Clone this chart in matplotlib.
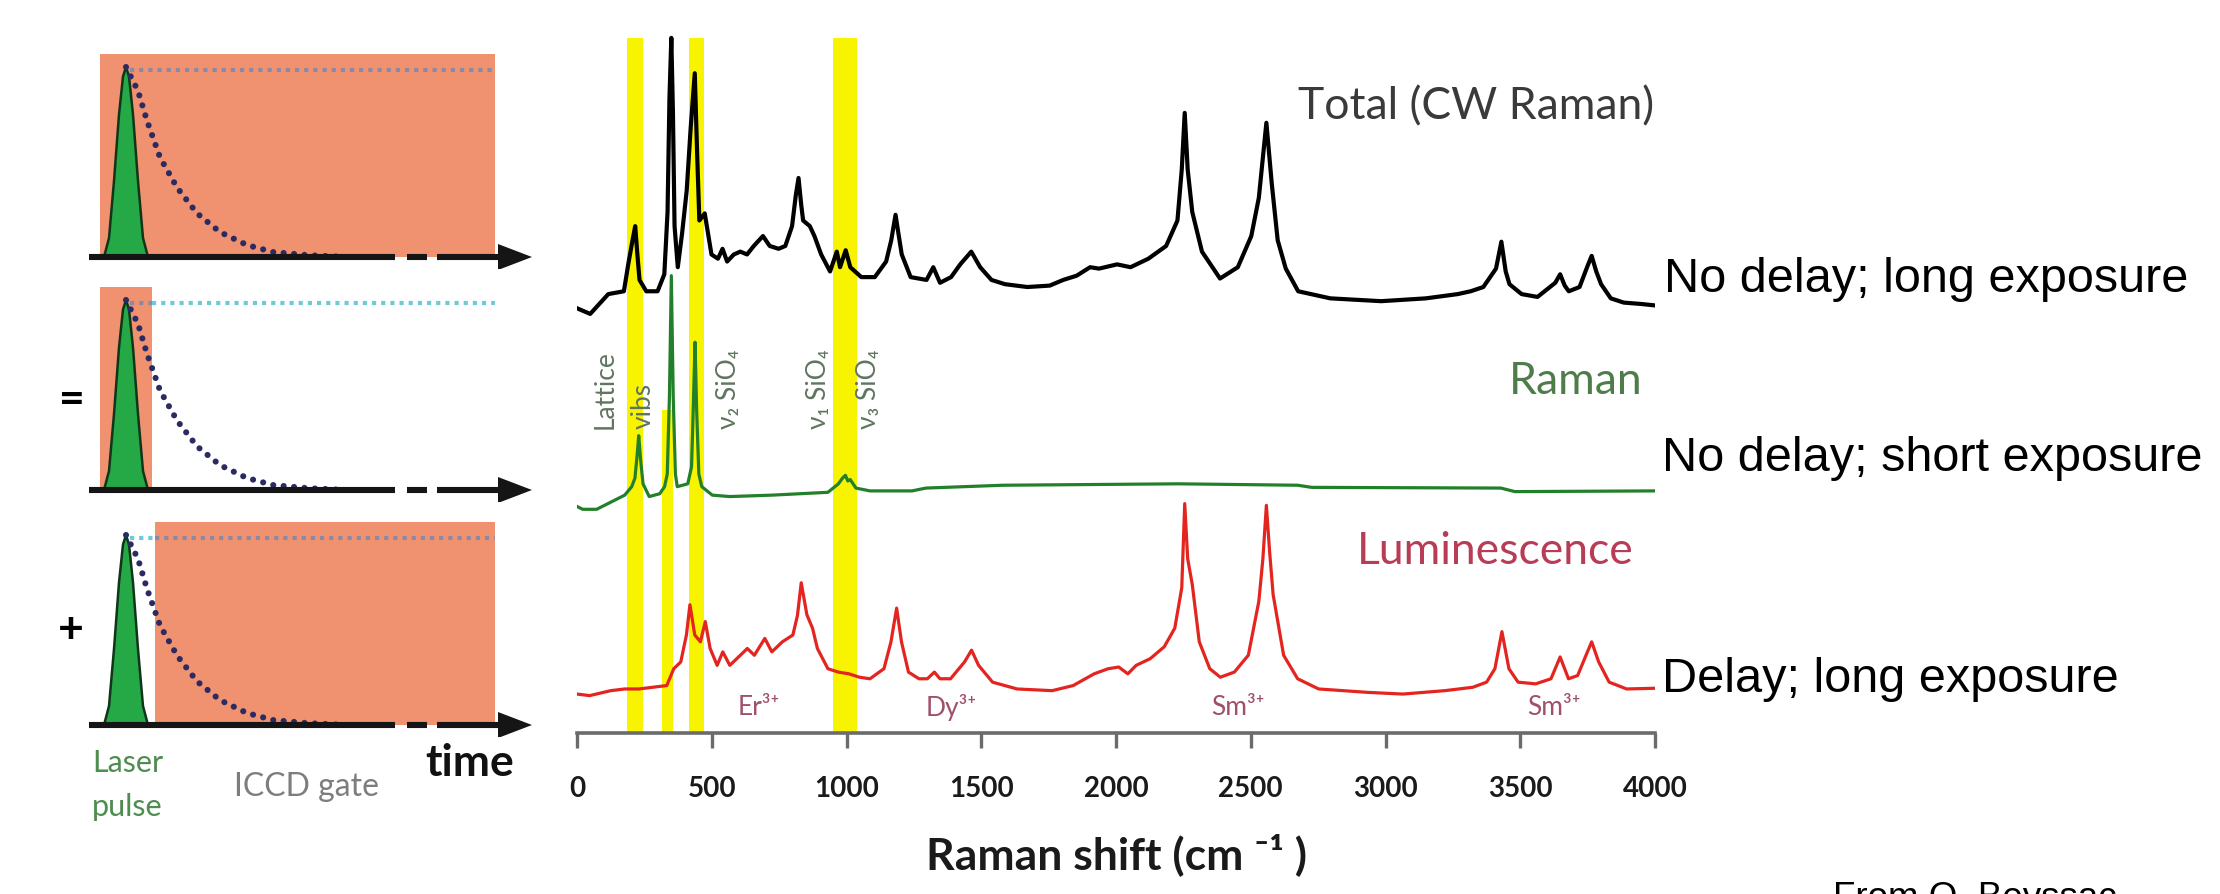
import matplotlib
matplotlib.use('Agg')
import matplotlib.pyplot as plt

W, H = 2220, 894
LAT = ['Lato', 'Noto Sans', 'DejaVu Sans']
ARIAL = ['Liberation Sans', 'DejaVu Sans']

# --- spectra (Raman shift in cm-1, intensity in arbitrary units) ---
total_shift = [0, 49, 116, 174, 191, 206, 216, 224, 232, 257, 299, 324, 336, 343, 350, 356, 362, 374,
               390, 407, 422, 437, 446, 454, 474, 499, 523, 540, 557, 582, 606, 631, 656, 690, 715,
               748, 773, 798, 812, 822, 832, 839, 864, 881, 906, 939, 964, 976, 997, 1014, 1055, 1105,
               1147, 1166, 1182, 1195, 1205, 1238, 1297, 1322, 1347, 1388, 1422, 1463, 1496, 1538,
               1588, 1671, 1754, 1804, 1854, 1904, 1937, 2004, 2054, 2120, 2186, 2228, 2244, 2255,
               2266, 2283, 2319, 2386, 2452, 2502, 2530, 2558, 2578, 2600, 2630, 2676, 2795, 2984,
               3150, 3268, 3316, 3363, 3410, 3430, 3446, 3460, 3505, 3564, 3630, 3648, 3665, 3680,
               3720, 3750, 3765, 3782, 3800, 3836, 3884, 3950, 4000]
total_int = [12, 8, 22, 24, 44, 60, 70, 50, 32, 24, 24, 36, 80, 160, 203, 150, 70, 41,
             65, 95, 140, 178, 120, 74, 79, 50, 47, 54, 45, 50, 52, 50, 56, 63, 56,
             54, 56, 70, 92, 104, 85, 74, 70, 63, 50, 38, 52, 41, 53, 41, 34, 34,
             45, 60, 78, 62, 50, 34, 32, 41, 30, 34, 43, 52, 41, 32,
             29, 27, 28, 32, 35, 41, 40, 43, 41, 47, 56, 74, 110, 150,
             110, 80, 52, 33, 41, 63, 90, 143, 100, 60, 40, 24, 19, 17,
             19, 22, 24, 27, 40, 59, 38, 29, 22, 20, 30, 36, 28, 24,
             27, 42, 49, 38, 29, 19, 16, 15, 14]

raman_shift = [0, 21, 73, 125, 177, 203, 215, 223, 229, 236, 245, 268, 307, 325, 335, 343, 350, 357,
               365, 372, 411, 425, 432, 438, 444, 452, 463, 502, 567, 723, 931, 970, 985, 996, 1005,
               1014, 1035, 1087, 1243, 1295, 1581, 2231, 2674, 2726, 3428, 3480, 4000]
raman_int = [2, 0, 0, 5, 10, 16, 22, 38, 52, 35, 18, 9, 11, 16, 25, 80, 165, 80,
             25, 16, 18, 30, 75, 118, 70, 25, 16, 10, 9, 10, 12, 18, 22, 24, 20,
             21, 15, 13, 13, 15, 17, 18, 17, 15.5, 15, 12.5, 13]

lum_shift = [0, 47, 125, 177, 229, 281, 333, 359, 385, 406, 419, 437, 458, 476, 494, 520, 541, 567,
             606, 632, 658, 697, 723, 762, 801, 818, 832, 853, 874, 892, 931, 970, 1009, 1048, 1087,
             1139, 1165, 1186, 1204, 1230, 1269, 1300, 1326, 1347, 1386, 1438, 1464, 1490, 1542,
             1633, 1763, 1841, 1919, 1971, 2010, 2044, 2075, 2127, 2179, 2218, 2244, 2255, 2266,
             2283, 2309, 2348, 2387, 2439, 2491, 2530, 2545, 2558, 2570, 2583, 2622, 2674, 2752,
             2934, 3064, 3220, 3324, 3375, 3406, 3432, 3458, 3492, 3557, 3614, 3648, 3679, 3713,
             3744, 3765, 3791, 3830, 3895, 4000]
lum_int = [4.5, 3.4, 6.9, 8.1, 8.1, 9.3, 10.5, 22.4, 27.2, 46.2, 67.6, 46.2, 41.4, 55.7, 36.7, 24.8, 34.3, 24.8,
           31.9, 36.7, 31.9, 43.8, 34.3, 41.4, 46.2, 60, 83.1, 60.5, 51, 36.7, 22.4, 20, 18.8, 16.4, 15.3,
           22.4, 41.4, 65.2, 41.4, 20, 15.3, 15.3, 20, 15.3, 15.3, 27.2, 35.5, 24.8, 12.9,
           8.1, 6.9, 10.5, 18.8, 22.4, 23.6, 18.8, 24.8, 29.5, 37.9, 51, 79.5, 139, 100,
           81.9, 41.4, 22.4, 16.4, 20, 31.9, 70, 100, 137.8, 105, 74.8, 31.9, 15.3, 8.1,
           5.7, 4.5, 6.9, 9.3, 12.9, 22.4, 48.6, 22.4, 12.9, 11.7, 15.3, 30.7, 15.3, 17.6,
           31.9, 41.4, 27.2, 12.9, 8.1, 8.6]

band_lo = [185, 315, 415, 950]
band_hi = [245, 355, 472, 1040]
band_top = [491, 228, 491, 491]

mode_labels = ['Lattice', 'vibs', 'ν₂ SiO₄', 'ν₁ SiO₄', 'ν₃ SiO₄']
mode_pos = [104, 247, 562, 896, 1080]
ion_labels = ['Er³⁺', 'Dy³⁺', 'Sm³⁺', 'Sm³⁺']
ion_pos = [674, 1389, 2452, 3626]
xticks = [0, 500, 1000, 1500, 2000, 2500, 3000, 3500, 4000]

# --- timing schematics (time in arbitrary units, 0 = laser pulse) ---
pulse_t = [-22, -17, -12, -7, -3, 0, 3, 7, 12, 17, 22]
pulse_level = [0, 0.1, 0.4, 0.75, 0.95, 1.0, 0.95, 0.75, 0.4, 0.1, 0]
decay_t = [0, 12, 21, 34, 51, 71, 94, 121, 147, 181, 220]
decay_level = [1.0, 0.874, 0.717, 0.524, 0.366, 0.23, 0.131, 0.063, 0.026, 0.01, 0]
gate_start = [-26, -26, 29]
gate_end = [369, 26, 369]
panel_base = [257, 490, 725]
gate_level = 1.068


def box(x0, y0, x1, y1):
    return [x0 / W, 1 - y1 / H, (x1 - x0) / W, (y1 - y0) / H]


fig = plt.figure(figsize=(W / 100, H / 100), dpi=100)
fig.patch.set_facecolor('white')

# spectra
S = 1.4158  # pixels per intensity unit
ax = fig.add_axes(box(577, 0, 1655, 733))
ax.set_xlim(0, 4000)
ax.set_ylim(0, 733 / S)
for lo, hi, top in zip(band_lo, band_hi, band_top):
    ax.fill_between([lo, hi], 0, top, color='#f8f400', lw=0, zorder=1)

ax.plot(total_shift, [v + 288 for v in total_int], color='black', lw=3.0, zorder=4,
        solid_joinstyle='round')
ax.plot(raman_shift, [v + 158 for v in raman_int], color='#23802a', lw=2.3, zorder=3,
        solid_joinstyle='round')
ax.plot(lum_shift, [v + 23 for v in lum_int], color='#e3241f', lw=2.3, zorder=3,
        solid_joinstyle='round')

for lab, xp in zip(mode_labels, mode_pos):
    ax.text(xp, 215, lab, rotation=90, ha='center', va='bottom', fontsize=19,
            color='#5f7560', family=LAT, zorder=5)
for lab, xp in zip(ion_labels, ion_pos):
    ax.text(xp, 18, lab, ha='center', va='center', fontsize=19, color='#a0506a',
            family=LAT, zorder=5)

ax.text(2675, 442, 'Total (CW Raman)', ha='left', va='center', fontsize=32,
        color='#3a3a3a', family=LAT)
ax.text(3952, 248, 'Raman', ha='right', va='center', fontsize=32, color='#4f7d4a', family=LAT)
ax.text(3922, 128, 'Luminescence', ha='right', va='center', fontsize=32, color='#b83c55',
        family=LAT)

for side in ['top', 'right', 'left']:
    ax.spines[side].set_visible(False)
ax.spines['bottom'].set_color('#6b6b6b')
ax.spines['bottom'].set_linewidth(2.6)
ax.set_yticks([])
ax.set_xticks(xticks)
ax.set_xticklabels([str(t) for t in xticks])
ax.tick_params(axis='x', direction='out', length=10.8, width=2.4, color='#6b6b6b', pad=20)
for t in ax.get_xticklabels():
    t.set_family(LAT)
    t.set_fontweight('bold')
    t.set_fontsize(20)
    t.set_color('#1a1a1a')
ax.set_xlabel('Raman shift (cm ⁻¹ )', family=LAT, fontweight='bold', fontsize=32,
              color='#1a1a1a', va='center')
ax.xaxis.set_label_coords(0.5, -122 / 733)
ax.patch.set_alpha(0)

# timing panels
U = 190.0  # pixels per unit level
for base, gs, ge in zip(panel_base, gate_start, gate_end):
    pa = fig.add_axes(box(86, base - 215, 545, base + 12))
    pa.set_xlim(-40, 419)
    pa.set_ylim(-12 / U, 215 / U)
    pa.axis('off')
    pa.fill_between([gs, ge], 0, gate_level, color='#f0916f', lw=0, zorder=1)

    # probe level: grey inside the gate, cyan outside
    p0, p1 = 4, 369
    segs = []
    if gs > p0:
        segs.append((p0, min(gs, p1), '#6ccbd9'))
    segs.append((max(p0, gs), min(p1, ge), '#8d88a3'))
    if ge < p1:
        segs.append((ge, p1, '#6ccbd9'))
    for a, b, c in segs:
        pa.plot([a, b], [0.985, 0.985], color=c, lw=3.0, ls=(0, (1.0, 1.2)), zorder=3)

    pa.fill(pulse_t, pulse_level, facecolor='#25a846', edgecolor='#10361a', lw=1.8, zorder=4)
    pa.plot(decay_t, decay_level, color='#2b2b63', lw=4.4, ls=(0, (0.01, 1.7)),
            dash_capstyle='round', zorder=5)

    # time axis with a break and an arrow head
    for a, b in [(-37, 269), (281, 301), (311, 378)]:
        pa.plot([a, b], [0, 0], color='#151515', lw=4.4, solid_capstyle='butt', zorder=6)
    pa.fill([372, 406, 372], [-13 / U, 0, 13 / U], color='#151515', lw=0, zorder=6)

fig.text(72 / W, 1 - 400 / H, '=', ha='center', va='center', fontsize=32,
         fontweight='bold', family=LAT)
fig.text(71 / W, 1 - 630 / H, '+', ha='center', va='center', fontsize=32,
         fontweight='bold', family=LAT)
fig.text(92 / W, 1 - 763 / H, 'Laser', ha='left', va='center', fontsize=22,
         color='#4e8c50', family=LAT)
fig.text(92 / W, 1 - 807 / H, 'pulse', ha='left', va='center', fontsize=22,
         color='#4e8c50', family=LAT)
fig.text(234 / W, 1 - 787 / H, 'ICCD gate', ha='left', va='center', fontsize=23,
         color='#7d7d7d', family=LAT)
fig.text(425 / W, 1 - 763 / H, 'time', ha='left', va='center', fontsize=32,
         fontweight='bold', color='#111111', family=LAT)

# acquisition settings
fig.text(1664 / W, 1 - 292 / H, 'No delay; long exposure', ha='left', va='baseline',
         fontsize=35, family=ARIAL)
fig.text(1662 / W, 1 - 471 / H, 'No delay; short exposure', ha='left', va='baseline',
         fontsize=35, family=ARIAL)
fig.text(1662 / W, 1 - 692 / H, 'Delay; long exposure', ha='left', va='baseline',
         fontsize=35, family=ARIAL)
fig.text(1833 / W, 1 - 908 / H, 'From O. Beyssac', ha='left', va='baseline',
         fontsize=26.5, family=ARIAL)

fig.savefig('out.png', dpi=100)
